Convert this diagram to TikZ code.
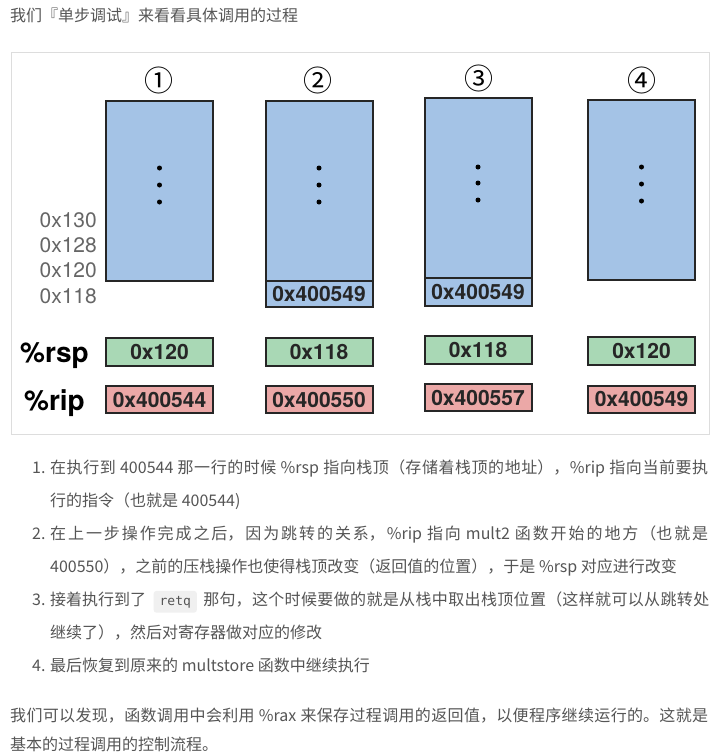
\documentclass[tikz,border=0pt]{standalone}
\usepackage{fontspec}
\setmainfont{Noto Sans CJK SC}
\newfontfamily\helv{TeX Gyre Heros}
\setmonofont{DejaVu Sans Mono}
\usepackage{xcolor}
\usepackage{tikz}
\usetikzlibrary{positioning}

\XeTeXlinebreaklocale "zh"
\XeTeXlinebreakskip=0pt plus 2pt
\newcommand\spreadline[2]{\parbox[b]{#1}{\tolerance=10000 \parindent=0pt
  \parfillskip=0pt \spaceskip=0.25em plus 1pt #2}}

\definecolor{stackblue}{HTML}{A4C3E6}
\definecolor{rspgreen}{HTML}{A9D8B5}
\definecolor{ripred}{HTML}{EBA8A7}
\definecolor{framegray}{HTML}{DDDDDD}
\definecolor{textgray}{HTML}{555555}
\definecolor{codegray}{HTML}{F0F0F0}

\begin{document}
\begin{tikzpicture}[x=1pt, y=-1pt,
    cell/.style={draw=black!85, line width=2pt, inner sep=0pt, outer sep=0pt,
      minimum width=107pt, text=black!85, font=\helv\bfseries\fontsize{21}{21}\selectfont},
    stackbox/.style={cell, fill=stackblue},
    rspbox/.style={cell, fill=rspgreen, minimum height=28pt},
    ripbox/.style={cell, fill=ripred, minimum height=27pt},
    stepnum/.style={inner sep=0pt, font=\fontsize{29}{29}\selectfont},
    addr/.style={anchor=base east, inner sep=0pt, text=black!60, font=\helv\fontsize{21}{21}\selectfont},
    reg/.style={anchor=base, inner sep=0pt, font=\helv\bfseries\fontsize{28}{28}\selectfont},
    prose/.style={anchor=base west, inner sep=0pt, text=textgray, font=\fontsize{16}{16}\selectfont},
    code/.style={prose, fill=codegray, rounded corners=3pt, inner xsep=6pt, inner ysep=5pt,
      font=\ttfamily\fontsize{13}{13}\selectfont}]
    \fill[white] (0,0) rectangle (721,756);
    \useasboundingbox (0,0) rectangle (721,756);

    \node[prose] (intro) at (10,21) {我们『单步调试』来看看具体调用的过程};

    %figure frame
    \draw[framegray] (11,52) rectangle (709,434);

    %step numbers
    \node[stepnum] (numA) at (159,80) {①};
    \node[stepnum] (numB) at (318,80) {②};
    \node[stepnum] (numC) at (479,78) {③};
    \node[stepnum] (numD) at (642,80) {④};

    %stack frames
    \node[stackbox, minimum height=180pt] (stackA) at (159.5,191) {};
    \node[stackbox, minimum height=180pt] (stackB) at (319,191) {};
    \node[stackbox, minimum height=26pt, anchor=north] (retB) at (stackB.south) {0x400549};
    \node[stackbox, minimum height=180pt] (stackC) at (478,188) {};
    \node[stackbox, minimum height=28pt, anchor=north] (retC) at (stackC.south) {0x400549};
    \node[stackbox, minimum height=180pt] (stackD) at (641.5,190) {};

    \fill (stackA.center) ++(0,-23) circle (2.5) ++(0,17) circle (2.5) ++(0,17) circle (2.5);
    \fill (stackB.center) ++(0,-23) circle (2.5) ++(0,17) circle (2.5) ++(0,17) circle (2.5);
    \fill (stackC.center) ++(0,-21) circle (2.5) ++(0,16) circle (2.5) ++(0,17) circle (2.5);
    \fill (stackD.center) ++(0,-23) circle (2.5) ++(0,17) circle (2.5) ++(0,17) circle (2.5);

    %addresses
    \node[addr] (a130) at (97,227) {0x130};
    \node[addr] (a128) at (97,252) {0x128};
    \node[addr] (a120) at (97,277) {0x120};
    \node[addr] (a118) at (97,303) {0x118};

    %registers
    \node[reg] (rsp) at (54.5,362) {\%rsp};
    \node[reg] (rip) at (54.5,410) {\%rip};

    \node[rspbox] (rspA) at (159.5,352) {0x120};
    \node[rspbox] (rspB) at (319,352) {0x118};
    \node[rspbox] (rspC) at (478,350) {0x118};
    \node[rspbox] (rspD) at (641.5,351) {0x120};

    \node[ripbox] (ripA) at (159.5,399.5) {0x400544};
    \node[ripbox] (ripB) at (319,399.5) {0x400550};
    \node[ripbox] (ripC) at (478,397.5) {0x400557};
    \node[ripbox] (ripD) at (641.5,399) {0x400549};

    %list
    \node[prose] (n1) at (32,473) {1.};
    \node[prose] (l1a) at (50,473) {\spreadline{658pt}{在执行到 400544 那一行的时候 \%rsp 指向栈顶（存储着栈顶的地址），\%rip 指向当前要执}};
    \node[prose] (l1b) at (50,506) {行的指令（也就是 400544)};
    \node[prose] (n2) at (32,539) {2.};
    \node[prose] (l2a) at (50,539) {\spreadline{658pt}{在上一步操作完成之后，因为跳转的关系，\%rip 指向 mult2 函数开始的地方（也就是}};
    \node[prose] (l2b) at (50,572) {400550），之前的压栈操作也使得栈顶改变（返回值的位置），于是 \%rsp 对应进行改变};
    \node[prose] (n3) at (32,605) {3.};
    \node[prose] (l3a) at (50,605) {接着执行到了};
    \node[code] (retq) at ([xshift=7pt]l3a.base east) {retq};
    \node[prose] (l3b) at ([xshift=6pt]retq.base east) {\spreadline{506pt}{那句，这个时候要做的就是从栈中取出栈顶位置（这样就可以从跳转处}};
    \node[prose] (l3c) at (50,638) {继续了），然后对寄存器做对应的修改};
    \node[prose] (n4) at (32,671) {4.};
    \node[prose] (l4a) at (50,671) {最后恢复到原来的 multstore 函数中继续执行};

    \node[prose] (p1) at (10,721) {\spreadline{698pt}{我们可以发现，函数调用中会利用 \%rax 来保存过程调用的返回值，以便程序继续运行的。这就是}};
    \node[prose] (p2) at (10,750) {基本的过程调用的控制流程。};
  \end{tikzpicture}
\end{document}
